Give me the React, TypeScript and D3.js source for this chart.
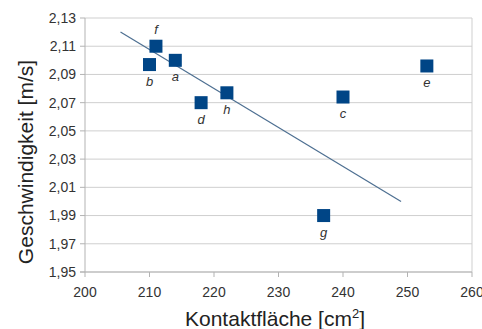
import React from 'react';
import * as d3 from 'd3';

// measured points (Kontaktfläche, Geschwindigkeit)
const labels = ['a', 'b', 'c', 'd', 'e', 'f', 'g', 'h'];
const area = [214, 210, 240, 218, 253, 211, 237, 222];
const speed = [2.1, 2.097, 2.074, 2.07, 2.096, 2.11, 1.99, 2.077];

// trend line end points
const trendX = [205.5, 249];
const trendY = [2.12, 2.0];

const xTicks = [200, 210, 220, 230, 240, 250, 260];
const yTicks = [1.95, 1.97, 1.99, 2.01, 2.03, 2.05, 2.07, 2.09, 2.11, 2.13];

const width = 482;
const height = 329;
const margin = { left: 85, top: 18, right: 10, bottom: 57 };

const fmt = (v: number) => v.toFixed(2).replace('.', ',');

export default function App() {
	const x = d3.scaleLinear().domain([200, 260]).range([margin.left, width - margin.right]);
	const y = d3.scaleLinear().domain([1.95, 2.13]).range([height - margin.bottom, margin.top]);

	const line = d3.line<number>()
		.x(d => x(trendX[d]))
		.y(d => y(trendY[d]));

	const sq = 13;
	const font = '"Liberation Sans", Arial, sans-serif';

	return (
		<svg width={width} height={height} style={{ position: 'absolute', left: 0, top: 0 }} fontFamily={font}>
			<rect width={width} height={height} fill="#fff" />
			{/* grid */}
			{yTicks.map(t => (
				<line key={'gy' + t} x1={x(200)} x2={x(260)} y1={y(t)} y2={y(t)} stroke="#cfcfcf" strokeWidth={1} />
			))}
			<line x1={x(260)} x2={x(260)} y1={y(1.95)} y2={y(2.13)} stroke="#cfcfcf" />
			{/* axes */}
			<line x1={x(200)} x2={x(200)} y1={y(1.95)} y2={y(2.13)} stroke="#b3b3b3" />
			<line x1={x(200) - 5} x2={x(260)} y1={y(1.95)} y2={y(1.95)} stroke="#b3b3b3" />
			{yTicks.map(t => (
				<g key={'ty' + t}>
					<line x1={x(200) - 5} x2={x(200)} y1={y(t)} y2={y(t)} stroke="#b3b3b3" />
					<text x={x(200) - 9} y={y(t)} dy="0.35em" textAnchor="end" fontSize={14} fill="#333">{fmt(t)}</text>
				</g>
			))}
			{xTicks.map(t => (
				<g key={'tx' + t}>
					<line x1={x(t)} x2={x(t)} y1={y(1.95)} y2={y(1.95) + 5} stroke="#b3b3b3" />
					<text x={x(t)} y={y(1.95) + 25} textAnchor="middle" fontSize={14} fill="#333">{t}</text>
				</g>
			))}
			{/* trend */}
			<path d={line([0, 1]) || ''} fill="none" stroke="#4d6f91" strokeWidth={1.2} />
			{/* points */}
			{area.map((a, i) => (
				<g key={labels[i]}>
					<rect x={x(a) - sq / 2} y={y(speed[i]) - sq / 2} width={sq} height={sq} fill="#004586" />
					<text x={x(a)} y={labels[i] === 'f' ? y(speed[i]) - 12 : y(speed[i]) + 21}
						textAnchor="middle" fontSize={13} fontStyle="italic" fill="#333">{labels[i]}</text>
				</g>
			))}
			{/* titles */}
			<text transform={`translate(33,${(y(1.95) + y(2.13)) / 2 + 17}) rotate(-90)`} textAnchor="middle" fontSize={21} fill="#222">Geschwindigkeit [m/s]</text>
			<text x={275} y={326} textAnchor="middle" fontSize={21} fill="#222">
				Kontaktfläche [cm<tspan fontSize={13} dy={-8}>2</tspan><tspan dy={8}>]</tspan>
			</text>
		</svg>
	);
}
